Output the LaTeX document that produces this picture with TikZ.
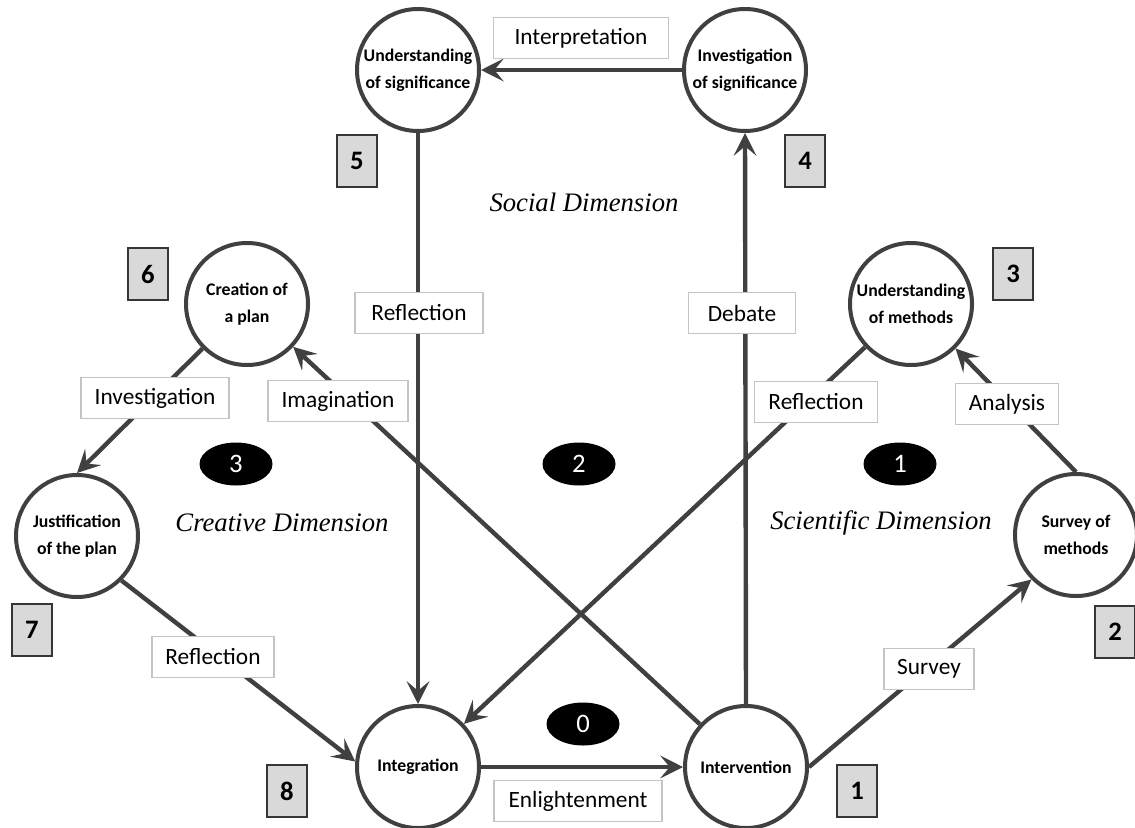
\documentclass[tikz,border=0pt]{standalone}
\usepackage{fontspec}
\setmainfont{Liberation Serif}
\newfontfamily\calibfont{Carlito}
\usetikzlibrary{arrows.meta,shapes.geometric}
\definecolor{ink}{HTML}{404040}
\definecolor{boxgray}{HTML}{C4C4C4}
\definecolor{numfill}{HTML}{D9D9D9}
\begin{document}
\begin{tikzpicture}[x=0.75pt,y=-0.75pt,
  stage/.style={circle, draw=ink, line width=3pt, fill=white, minimum size=91.5pt,
    inner sep=0pt, align=center, font=\calibfont\bfseries\fontsize{13.3}{20}\selectfont},
  lbl/.style={draw=boxgray, fill=white, line width=0.8pt, minimum height=30.75pt,
    inner xsep=3pt, inner ysep=0pt, font=\calibfont\fontsize{17.5}{21}\selectfont},
  numbox/.style={draw=ink!85!black, fill=numfill, line width=1.1pt, minimum width=30pt,
    minimum height=39pt, inner sep=0pt, font=\calibfont\bfseries\fontsize{20}{24}\selectfont},
  phase/.style={ellipse, fill=black, minimum width=54.75pt, minimum height=32.25pt,
    inner sep=0pt, text=white, font=\calibfont\fontsize{20}{24}\selectfont},
  dimtext/.style={font=\itshape\fontsize{20}{24}\selectfont},
  flow/.style={draw=ink, line width=3.3pt, -{Stealth[length=17pt,width=17pt,inset=7pt]}},
  link/.style={draw=ink, line width=3.3pt}
]
\useasboundingbox[fill=white] (0,0) rectangle (1135,828);

% stages of the cycle
\node[stage] (us) at (418,70)  {Understanding\\of significance};
\node[stage] (is) at (745,70)  {Investigation\\of significance};
\node[stage] (cp) at (247,304) {Creation of\\a plan};
\node[stage] (um) at (911,304) {Understanding\\of methods};
\node[stage] (jp) at (77,536)  {Justification\\of the plan};
\node[stage] (sm) at (1076,535) {Survey of\\methods};
\node[stage] (ig) at (418,767) {Integration};
\node[stage] (iv) at (746,767) {Intervention};

% connectors
\draw[flow] (is.west) -- (us.east);
\draw[flow] (us.south) -- (ig.north);
\draw[flow] (iv.north) -- (is.south);
\draw[flow] (iv) -- (cp);
\draw[flow] (um) -- (ig);
\draw[flow] (cp.225) -- (jp.north);
\draw[flow] (jp.315) -- (ig.175);
\draw[flow] (ig.east) -- (iv.west);
\draw[flow] (iv.east) -- (sm.225);
\draw[flow] (sm.north) -- (um.315);

% activity labels
\node[lbl, minimum width=131.25pt] (lInterp) at (581,38)  {Interpretation};
\node[lbl, minimum width=96pt]     (lReflS)  at (419,313) {Reflection};
\node[lbl, minimum width=80.25pt]  (lDeb)    at (742,313) {Debate};
\node[lbl, minimum width=111pt]    (lInv)    at (155,398) {Investigation};
\node[lbl, minimum width=105pt]    (lImag)   at (338,401) {Imagination};
\node[lbl, minimum width=92.25pt]  (lReflR)  at (816,402) {Reflection};
\node[lbl, minimum width=77.25pt]  (lAna)    at (1007,404) {Analysis};
\node[lbl, minimum width=67.5pt]   (lSur)    at (929,669) {Survey};
\node[lbl, minimum width=91.5pt]   (lReflL)  at (213,657) {Reflection};
\node[lbl, minimum width=126pt]    (lEnl)    at (578,801) {Enlightenment};

% step numbers
\node[numbox] (n5) at (357,161)  {5};
\node[numbox] (n4) at (805,161)  {4};
\node[numbox] (n6) at (148,274)  {6};
\node[numbox] (n3) at (1013,274) {3};
\node[numbox] (n7) at (32,630)   {7};
\node[numbox] (n2) at (1115,632) {2};
\node[numbox] (n8) at (287,791)  {8};
\node[numbox] (n1) at (857,791)  {1};

% dimension markers
\node[phase] (p3) at (236,464) {3};
\node[phase] (p2) at (579,464) {2};
\node[phase] (p1) at (900,464) {1};
\node[phase] (p0) at (583,724) {0};

\node[dimtext] (dSoc) at (584,202) {Social Dimension};
\node[dimtext] (dCre) at (282,523) {Creative Dimension};
\node[dimtext] (dSci) at (881,523) {Scientific Dimension};
\end{tikzpicture}
\end{document}
